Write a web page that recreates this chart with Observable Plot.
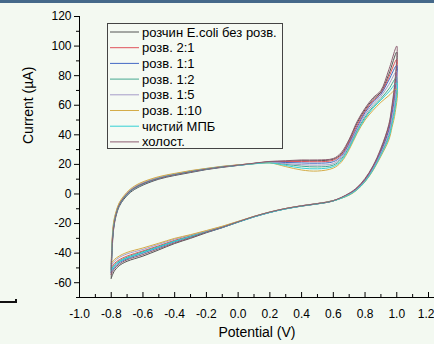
<!DOCTYPE html>
<html><head><meta charset="utf-8">
<script src="https://cdn.jsdelivr.net/npm/d3@7"></script>
<script src="https://cdn.jsdelivr.net/npm/@observablehq/plot@0.6"></script>
<style>
html,body{margin:0;padding:0;background:#f3f9f1;}
#wrap{position:relative;width:434px;height:344px;overflow:hidden;font-family:"Liberation Sans",Arial,sans-serif;background:#f3f9f1;}
#topbar{position:absolute;left:0;top:0;width:434px;height:3px;background:#45698a;}
#mark1{position:absolute;left:0;top:301px;width:17px;height:2px;background:#111;}
#mark2{position:absolute;left:15px;top:299px;width:2px;height:4px;background:#111;}
#legend{position:absolute;left:107px;top:23px;}
</style></head><body><div id="wrap"><div id="topbar"></div><div id="mark1"></div><div id="mark2"></div></div>
<script>
// Potential (V): forward scan -0.8 -> 1.0, then reverse 1.0 -> -0.8
const potential = [-0.8,-0.795,-0.785,-0.77,-0.75,-0.72,-0.68,-0.62,-0.5,-0.4,-0.3,-0.2,-0.1,0.0,0.1,0.2,0.3,0.4,0.5,0.6,0.65,0.7,0.75,0.8,0.85,0.9,0.95,1.0,
  0.99,0.97,0.95,0.9,0.85,0.8,0.75,0.7,0.6,0.5,0.4,0.3,0.2,0.1,0.0,-0.1,-0.2,-0.3,-0.4,-0.5,-0.6,-0.7,-0.75,-0.78,-0.8];

const seriesNames = ["розчин E.coli без розв.","розв. 2:1","розв. 1:1","розв. 1:2","розв. 1:5","розв. 1:10","чистий МПБ","холост."];
const seriesColors = ["#555555","#e0525a","#4468c4","#46a890","#a69cc8","#d4ac48","#34d0d4","#8c5c70"];

const curEcoli = [-57,-40,-24,-15,-8.5,-3.5,1,5,10,12.5,14.5,16.5,18,19.3,20.6,21.8,22,22.5,22.5,23.5,27,36,48,57,64,69,81,96,
  75,58,46,30,18.5,10,4,0.3,-4.7,-6.7,-8.2,-10,-12.4,-15.4,-19,-22.8,-26.2,-30,-33.5,-37.8,-42,-45.5,-48.5,-52,-57];
const cur2to1 = [-50,-34,-21,-13,-7,-2.2,2.3,6.3,11,13.3,15.4,17,18.5,19.6,20.7,21.8,21.8,22,21.8,22.8,26.5,35,46.5,56,63,68,79,91,
  71,56,44,29,18,9.5,3.8,0,-4.5,-6.5,-8,-9.9,-12.3,-15.3,-18.8,-22.3,-25.3,-28.3,-31.3,-35,-38.5,-42,-44.5,-47,-50];
const cur1to1 = [-53,-36,-22.5,-14,-7.8,-2.7,1.8,5.8,10.5,13,15,16.8,18.3,19.4,20.6,21.6,21.3,21,20.8,21.8,25.5,34,45,55,62,67.5,77,87,
  68,54,43,28.5,17.5,9.2,3.6,-0.2,-4.6,-6.6,-8.1,-10,-12.5,-15.5,-19,-22.7,-25.8,-29,-32.3,-36.2,-40,-43.8,-46.5,-49.5,-53];
const cur1to2 = [-51,-35,-21.5,-13.5,-7.3,-2.4,2.1,6.1,10.8,13.2,15.2,16.9,18.4,19.5,20.5,21.2,20,18.8,18.3,19.5,23.5,32,43,52,59,64.5,71,79,
  61,49,39.5,27,16.5,8.6,3.1,-0.5,-4.6,-6.6,-8.1,-10,-12.4,-15.4,-18.9,-22.4,-25.5,-28.6,-31.8,-35.5,-39,-42.8,-45.3,-48,-51];
const cur1to5 = [-48.5,-33,-20,-12.5,-6.5,-1.7,2.8,6.8,11.3,13.6,15.6,17.2,18.6,19.6,20.6,21.4,20.5,19.8,19.5,20.5,24.5,33,44,53.5,60.5,66,74,83,
  64,51,41,27.5,17,8.8,3.3,-0.3,-4.4,-6.4,-7.9,-9.8,-12.2,-15.2,-18.6,-22,-25,-27.8,-30.5,-34,-37.5,-40.5,-43,-45.5,-48.5];
const cur1to10 = [-47,-32,-19,-12,-6,-1.2,3.3,7.3,11.7,13.9,15.8,17.3,18.7,19.7,20.5,21,18.5,16.2,15.5,17.5,21.5,30,41,50,56.5,62,66.5,71,
  55,45,36.5,25.5,15.8,8.2,2.8,-0.8,-4.5,-6.5,-8,-9.8,-12.2,-15.1,-18.5,-21.8,-24.7,-27.5,-30,-33.3,-36.5,-39.5,-42,-44.3,-47];
const curMPB = [-52,-35.5,-22,-13.8,-7.6,-2.6,1.9,5.9,10.6,13.1,15.1,16.9,18.4,19.4,20.4,21,19.3,17.5,17,18.5,22.5,31,42,51,58,63.5,69,75,
  58,47,38,26.3,16.2,8.4,3,-0.6,-4.7,-6.7,-8.2,-10.1,-12.5,-15.5,-19,-22.6,-25.7,-28.8,-32,-35.8,-39.6,-43.3,-45.8,-48.5,-52];
const curBlank = [-54.5,-37,-23,-14,-7.5,-2.5,2,6,10.5,13,15,16.8,18.3,19.5,20.8,22,22.5,23,23,24,28,37,49,58,65,70,84,100,
  78,60,47,31,19,10.5,4.5,0.5,-4.5,-6.5,-8,-9.8,-12.2,-15.2,-18.8,-22.5,-25.8,-29.5,-33,-37,-41,-44.5,-47.5,-50.5,-54.5];

const xTicks = [-1.0,-0.8,-0.6,-0.4,-0.2,0.0,0.2,0.4,0.6,0.8,1.0,1.2];
const xMinor = [-0.9,-0.7,-0.5,-0.3,-0.1,0.1,0.3,0.5,0.7,0.9,1.1];
const yTicks = [-60,-40,-20,0,20,40,60,80,100,120];
const yMinor = [-70,-50,-30,-10,10,30,50,70,90,110];

const seriesCurrents = [curEcoli,cur2to1,cur1to1,cur1to2,cur1to5,cur1to10,curMPB,curBlank];
const rows = seriesNames.flatMap((name,i)=>potential.map((p,j)=>({series:name, idx:i, potential:p, current:seriesCurrents[i][j]})));

const lastTick = xTicks[xTicks.length-1];
const chart = Plot.plot({
  width: 434, height: 344,
  marginLeft: 79, marginRight: 0, marginTop: 16, marginBottom: 47,
  style: {background:"transparent", fontFamily:"Liberation Sans, Arial, sans-serif", fontSize:"12px", color:"#000"},
  x: {domain:[-1,1.2], range:[79,428]},
  y: {domain:[-70,120], range:[297,16]},
  color: {domain: seriesNames, range: seriesColors},
  marks: [
    Plot.line(rows, {x:"potential", y:"current", z:"series", stroke:"series", strokeWidth:1, curve:"catmull-rom"}),
    Plot.ruleX([-1], {stroke:"#000", strokeWidth:1}),
    Plot.ruleY([-70], {stroke:"#000", strokeWidth:1}),
    Plot.axisY({ticks:yTicks, tickSize:5, tickPadding:3, tickFormat:d=>String(d), label:null, fontSize:12}),
    Plot.axisY({ticks:yMinor, tickSize:3, text:null, label:null}),
    Plot.tickX(xTicks, {x:d=>d, insetTop:276, stroke:"#000"}),
    Plot.tickX(xMinor, {x:d=>d, insetTop:278, stroke:"#000"}),
    Plot.axisX({ticks:xTicks.filter(d=>d!==lastTick), tickSize:0, tickPadding:12, tickFormat:d=>d.toFixed(1), label:null, fontSize:12}),
    Plot.axisX({ticks:[lastTick], tickSize:0, tickPadding:12, tickFormat:d=>d.toFixed(1), label:null, fontSize:12, textAnchor:"end", dx:6}),
    Plot.text(["Current (µA)"], {frameAnchor:"left", rotate:-90, dx:-51, dy:-13, fontSize:14}),
    Plot.text(["Potential (V)"], {frameAnchor:"bottom", dy:39, fontSize:14})
  ]
});
const wrap = document.getElementById("wrap");
chart.style.position = "absolute"; chart.style.left = "0"; chart.style.top = "0";
wrap.insertBefore(chart, wrap.firstChild);

// legend box
const lg = d3.select(wrap).append("svg").attr("id","legend").attr("width",177).attr("height",127);
lg.append("rect").attr("x",0.5).attr("y",0.5).attr("width",175).attr("height",125).attr("fill","#f5faf3").attr("stroke","#444").attr("stroke-width",1);
seriesNames.forEach((name,i)=>{
  const cy = 9 + i*15.7;
  lg.append("line").attr("x1",3).attr("x2",32).attr("y1",cy).attr("y2",cy).attr("stroke",seriesColors[i]).attr("stroke-width",1);
  lg.append("text").attr("x",35).attr("y",cy).attr("dy","0.35em").attr("font-size",13).attr("font-family","Liberation Sans, Arial, sans-serif").attr("fill","#000").text(name);
});
</script></body></html>
